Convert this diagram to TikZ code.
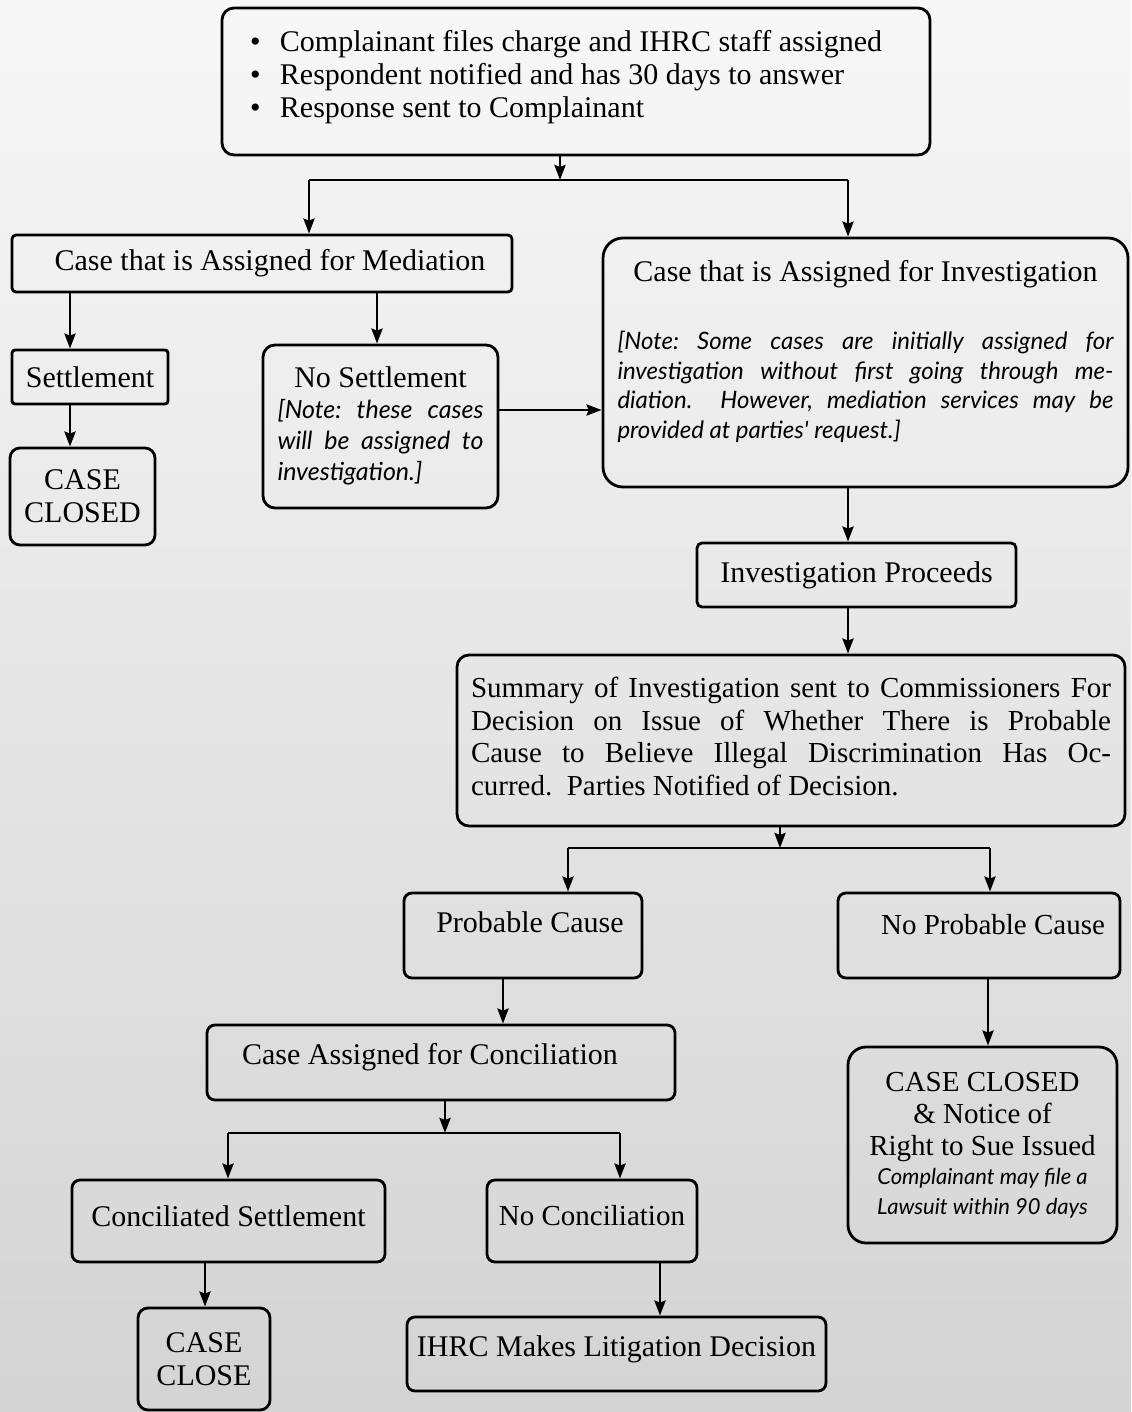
\documentclass[tikz,border=0pt]{standalone}
\usepackage{fontspec}
\setmainfont{Liberation Serif}
\newfontfamily\notef{Lato}
\usetikzlibrary{arrows.meta}
\tikzset{
  bx/.style={draw=black, line width=1.4pt, inner sep=0pt, text=black},
  conn/.style={line width=1.4pt, draw=black},
  arr/.style={conn, -{Stealth[length=7.5pt,width=5.5pt,inset=1pt]}},
}
\frenchspacing
\newcommand\ctt[4]{\parbox[c][#2][t]{#1}{\vspace*{#3}\centering #4\par}}
\newcommand\mainsz{\fontsize{15pt}{16.5pt}\selectfont}
\newcommand\notesz[2]{\fontsize{#1}{#2}\selectfont\notef\itshape}
\begin{document}
\begin{tikzpicture}[x=0.5pt,y=-0.5pt]
\shade[top color=gray!6, bottom color=gray!34] (0,0) rectangle (1131,1412);
\useasboundingbox (0,0) rectangle (1131,1412);

% boxes
\node[bx, rounded corners=6pt] (top) at (576,81.5)
  {\parbox[c][73.5pt][t]{354pt}{\vspace*{11pt}\mainsz\raggedright
   \hspace*{14pt}\makebox[15pt][l]{\textbullet}Complainant files charge and IHRC staff assigned\\
   \hspace*{14pt}\makebox[15pt][l]{\textbullet}Respondent notified and has 30 days to answer\\
   \hspace*{14pt}\makebox[15pt][l]{\textbullet}Response sent to Complainant\par}};

\node[bx, rounded corners=2pt, minimum width=250pt, minimum height=28.5pt, font=\mainsz] (med) at (262,263.5)
  {\hspace*{8pt}Case that is Assigned for Mediation};

\node[bx, rounded corners=10pt] (inv) at (865.5,362.5)
  {\parbox[c][124.5pt][t]{262.5pt}{\vspace*{11pt}\centering\mainsz Case that is Assigned for Investigation\par
   \notesz{12pt}{14.75pt}\vspace{19.5pt}%
   \makebox[248pt][s]{[Note: Some cases are initially assigned for}\\
   \makebox[248pt][s]{investigation without first going through me-}\\
   \makebox[248pt][s]{diation.\ \ However, mediation services may be}\\
   \makebox[248pt][l]{provided at parties' request.]}\par}};

\node[bx, rounded corners=1.5pt, minimum width=78pt, minimum height=27pt, font=\mainsz] (settle) at (90,377)
  {Settlement};

\node[bx, rounded corners=6pt] (noset) at (380.5,426.5)
  {\parbox[c][81.5pt][t]{117.5pt}{\vspace*{11pt}\centering\mainsz No Settlement\par
   \notesz{12.5pt}{15.5pt}%
   \makebox[103pt][s]{[Note: these cases}\\
   \makebox[103pt][s]{will be assigned to}\\
   \makebox[103pt][l]{investigation.]}\par}};

\node[bx, rounded corners=5pt, minimum width=72.5pt, minimum height=48.5pt, align=center, font=\mainsz] (cc1) at (82.5,496.5)
  {CASE\\CLOSED};

\node[bx, rounded corners=2.5pt, minimum width=159.5pt, minimum height=32pt, font=\mainsz] (ip) at (856.5,575)
  {Investigation Proceeds};

\node[bx, rounded corners=6pt] (sum) at (791,740.5)
  {\parbox[c][85.5pt][t]{334pt}{\vspace*{11pt}\centering\fontsize{14.5pt}{16.3pt}\selectfont
   \makebox[320pt][s]{Summary of Investigation sent to Commissioners For}\\
   \makebox[320pt][s]{Decision on Issue of Whether There is Probable}\\
   \makebox[320pt][s]{Cause to Believe Illegal Discrimination Has Oc-}\\
   \makebox[320pt][l]{curred.\ \ Parties Notified of Decision.}\par}};

\node[bx, rounded corners=4pt] (pc) at (523,935.5)
  {\ctt{119pt}{42.5pt}{9.5pt}{\mainsz\hspace*{7pt}Probable Cause}};

\node[bx, rounded corners=4pt] (npc) at (979,935.5)
  {\ctt{141pt}{42.5pt}{10.5pt}{\fontsize{14.5pt}{16.5pt}\selectfont\hspace*{14pt}No Probable Cause}};

\node[bx, rounded corners=4pt] (conc) at (441,1062.5)
  {\ctt{234pt}{37.5pt}{9pt}{\mainsz Case Assigned for Conciliation\hspace*{11pt}}};

\node[bx, rounded corners=9pt] (cc2) at (982.5,1145)
  {\parbox[c][98pt][t]{134.5pt}{\vspace*{12.5pt}\centering\fontsize{14.5pt}{16pt}\selectfont
   CASE CLOSED\\ \&~Notice of\\ Right to Sue Issued\par
   \notesz{11pt}{14.75pt}Complainant may file a\\ Lawsuit within 90 days\par}};

\node[bx, rounded corners=4pt] (cs) at (228.5,1221)
  {\ctt{156.5pt}{41pt}{13pt}{\mainsz Conciliated Settlement}};

\node[bx, rounded corners=4pt] (nc) at (592,1221)
  {\ctt{105pt}{41pt}{12.5pt}{\fontsize{14.5pt}{16.5pt}\selectfont No Conciliation}};

\node[bx, rounded corners=5pt, minimum width=66pt, minimum height=51pt, align=center, font=\mainsz] (cc3) at (204,1359)
  {CASE\\CLOSE};

\node[bx, rounded corners=4pt] (ihrc) at (616.5,1354)
  {\ctt{209.5pt}{37pt}{9.5pt}{\mainsz IHRC Makes Litigation Decision}};

% junctions
\coordinate (j1) at (560,180);
\coordinate (j1l) at (309,180);
\coordinate (j1r) at (848,180);
\coordinate (mx1) at (70,0);
\coordinate (mx2) at (377,0);
\coordinate (ny) at (0,410);
\coordinate (j2) at (780,848);
\coordinate (j2l) at (568,848);
\coordinate (j2r) at (990,848);
\coordinate (px) at (503,0);
\coordinate (qx) at (988,0);
\coordinate (j3) at (445,1133);
\coordinate (j3l) at (228,1133);
\coordinate (j3r) at (620,1133);
\coordinate (cx) at (205,0);
\coordinate (nx) at (660,0);

% connectors
\draw[arr] (j1 |- top.south) -- (j1);
\draw[conn] (j1l) -- (j1r);
\draw[arr] (j1l) -- (j1l |- med.north);
\draw[arr] (j1r) -- (j1r |- inv.north);
\draw[arr] (mx1 |- med.south) -- (mx1 |- settle.north);
\draw[arr] (mx2 |- med.south) -- (mx2 |- noset.north);
\draw[arr] (mx1 |- settle.south) -- (mx1 |- cc1.north);
\draw[arr] (noset.east |- ny) -- (inv.west |- ny);
\draw[arr] (j1r |- inv.south) -- (j1r |- ip.north);
\draw[arr] (j1r |- ip.south) -- (j1r |- sum.north);
\draw[arr] (j2 |- sum.south) -- (j2);
\draw[conn] (j2l) -- (j2r);
\draw[arr] (j2l) -- (j2l |- pc.north);
\draw[arr] (j2r) -- (j2r |- npc.north);
\draw[arr] (px |- pc.south) -- (px |- conc.north);
\draw[arr] (qx |- npc.south) -- (qx |- cc2.north);
\draw[arr] (j3 |- conc.south) -- (j3);
\draw[conn] (j3l) -- (j3r);
\draw[arr] (j3l) -- (j3l |- cs.north);
\draw[arr] (j3r) -- (j3r |- nc.north);
\draw[arr] (cx |- cs.south) -- (cx |- cc3.north);
\draw[arr] (nx |- nc.south) -- (nx |- ihrc.north);
\end{tikzpicture}
\end{document}
